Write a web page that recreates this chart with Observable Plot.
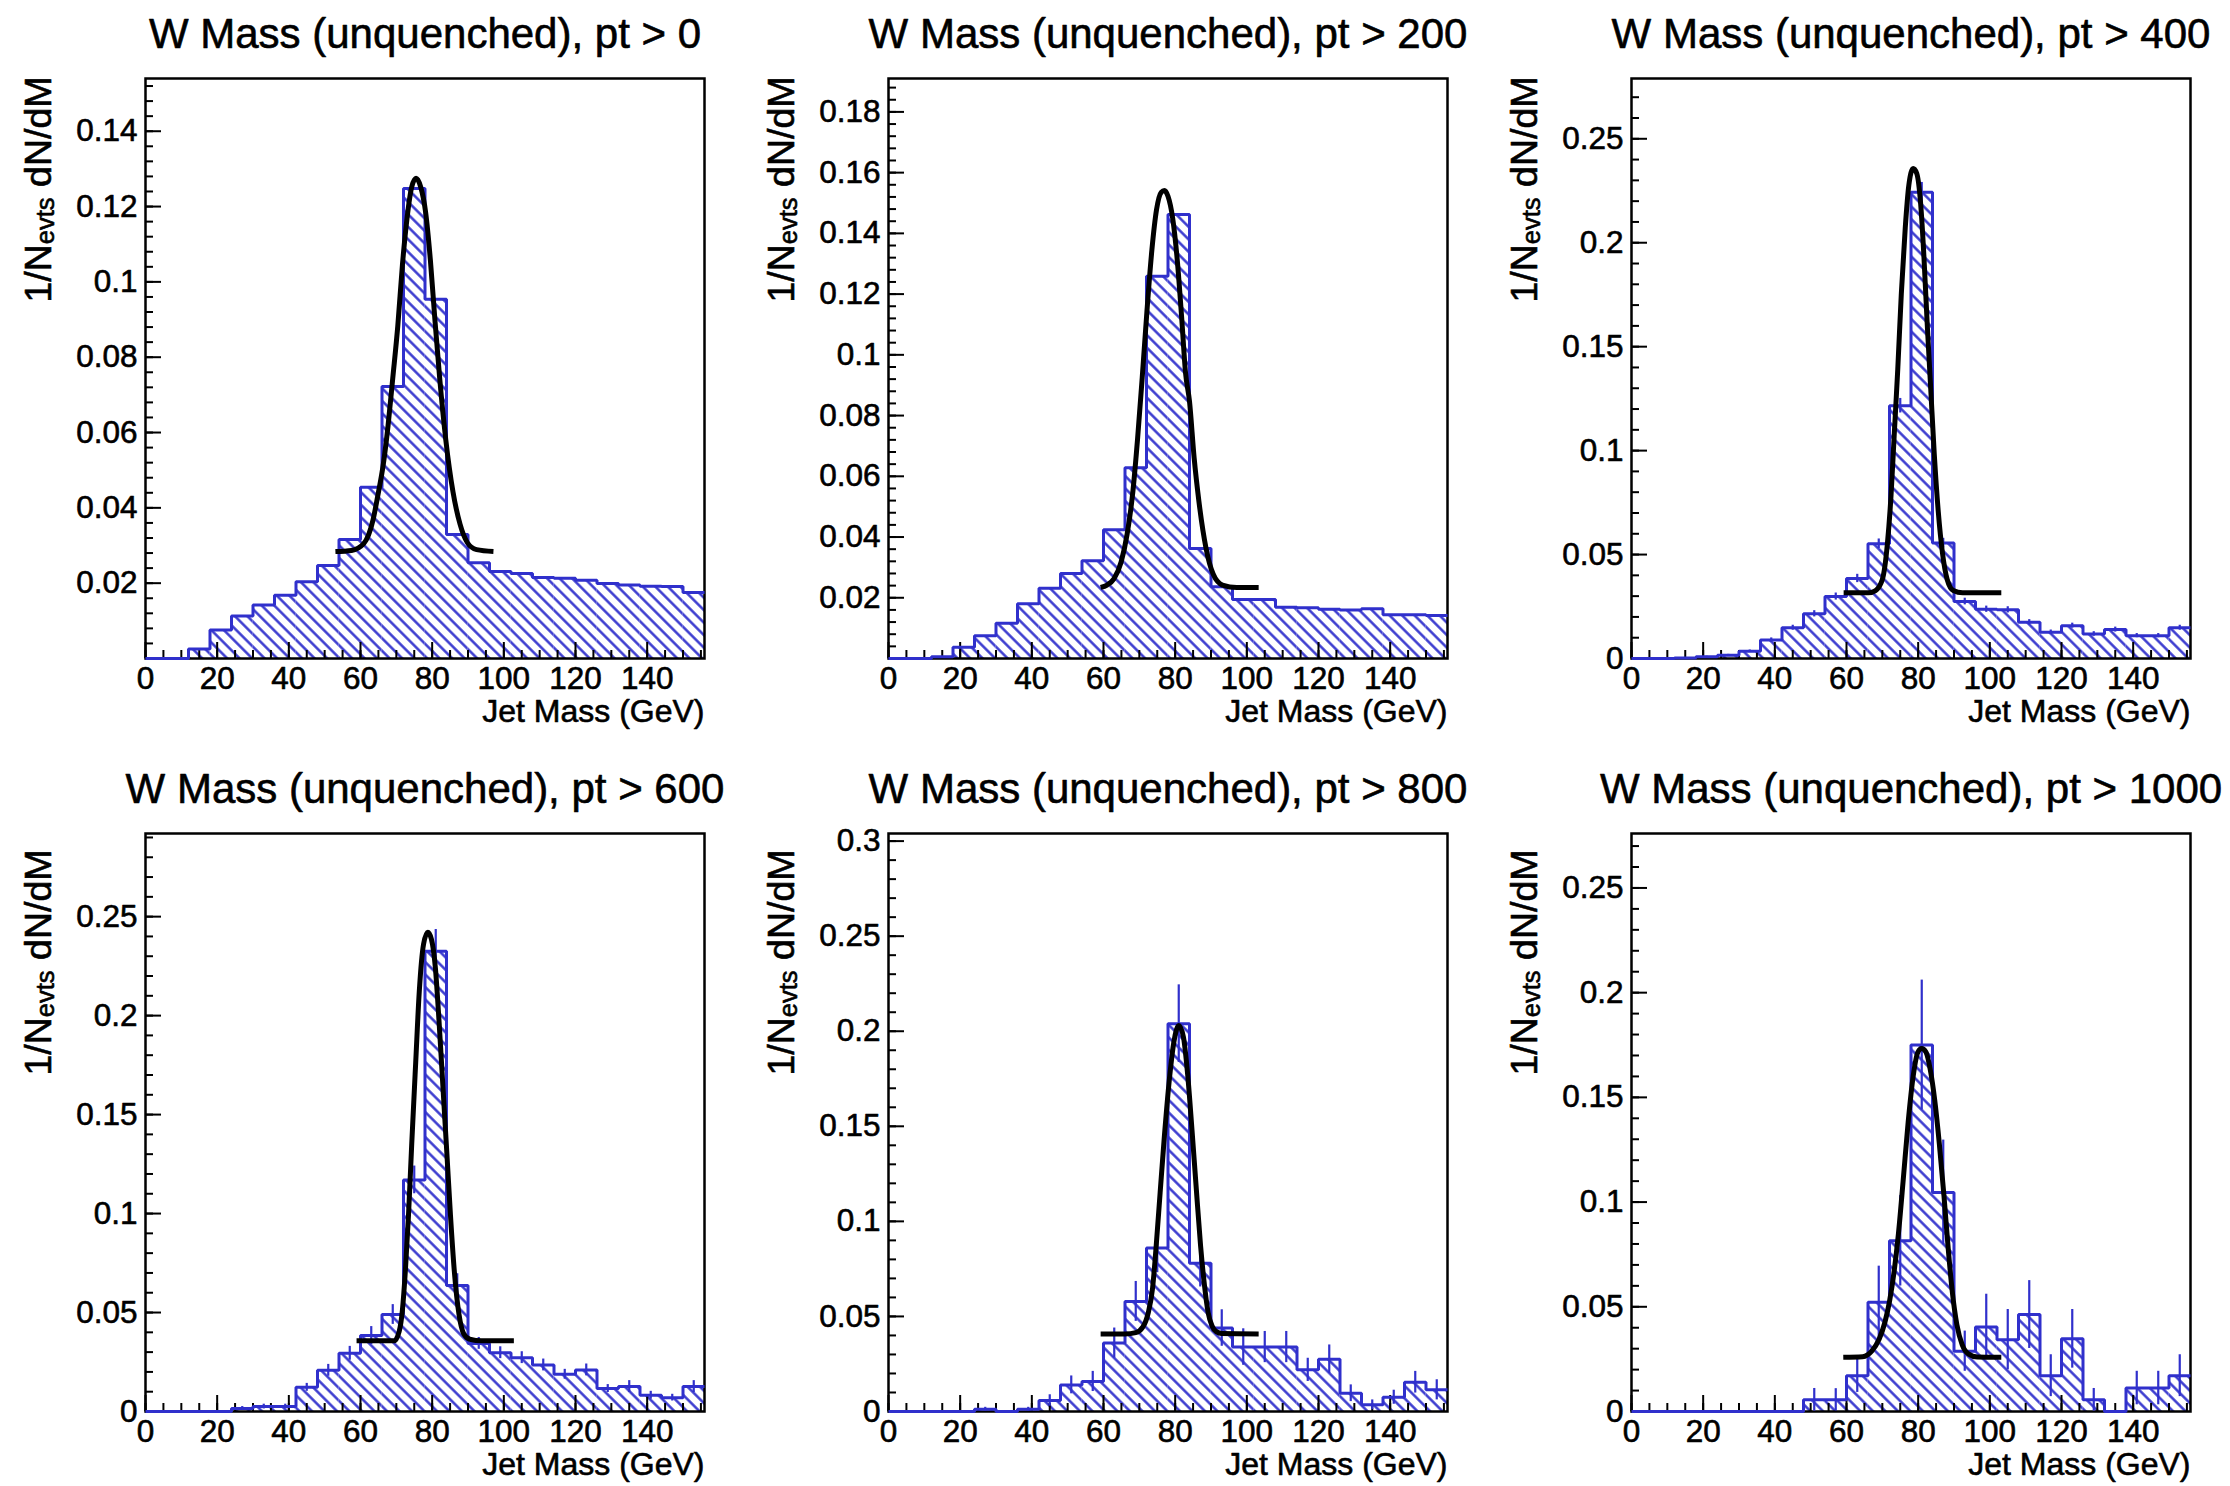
<!DOCTYPE html>
<html>
<head>
<meta charset="utf-8">
<script src="https://cdn.jsdelivr.net/npm/d3@7"></script>
<script src="https://cdn.jsdelivr.net/npm/@observablehq/plot@0.6"></script>
<style>
  html, body { margin: 0; padding: 0; background: #fff; }
  #page { position: relative; width: 2230px; height: 1486px; overflow: hidden; background: #fff; }
  .panel { position: absolute; }
</style>
</head>
<body>
<div id="page"></div>
<script>
// ---------------- DATA ----------------
const binWidth = 6;          // GeV per bin
const xMax = 156;            // 26 bins
const ptCuts = [0, 200, 400, 600, 800, 1000];
const xTitle = "Jet Mass (GeV)";
const yTitle = "1/Nevts dN/dM";
const xTickLabels = [0, 20, 40, 60, 80, 100, 120, 140];

// 1/N dN/dM per 6 GeV bin (0-6, 6-12, ... 150-156)
const hist0    = [0, 0, 0.0025, 0.0076, 0.0113, 0.0142, 0.0168, 0.0204, 0.0247, 0.0316, 0.0455, 0.0722, 0.1248, 0.0954, 0.0329, 0.0254, 0.0231, 0.0226, 0.0215, 0.0213, 0.0208, 0.0199, 0.0195, 0.0192, 0.0191, 0.0175];
const hist200  = [0, 0, 0.0006, 0.0037, 0.0075, 0.0116, 0.0180, 0.0231, 0.0280, 0.0322, 0.0424, 0.0628, 0.1259, 0.1462, 0.0362, 0.0236, 0.0194, 0.0194, 0.0169, 0.0167, 0.0162, 0.0160, 0.0164, 0.0144, 0.0144, 0.0142];
const hist400  = [0, 0, 0.0003, 0.0008, 0.0016, 0.0035, 0.0089, 0.0148, 0.0215, 0.0298, 0.0385, 0.0552, 0.1216, 0.2243, 0.0555, 0.0274, 0.0237, 0.0234, 0.0174, 0.0126, 0.0158, 0.0118, 0.0139, 0.0110, 0.0110, 0.0148];
const hist600  = [0, 0, 0, 0, 0.0015, 0.0025, 0.0025, 0.0122, 0.0208, 0.0294, 0.0384, 0.0490, 0.1170, 0.2325, 0.0636, 0.0344, 0.0297, 0.0272, 0.0235, 0.0188, 0.0210, 0.0116, 0.0126, 0.0082, 0.0070, 0.0126];
const hist800  = [0, 0, 0, 0, 0.0012, 0, 0.0012, 0.0058, 0.0140, 0.0158, 0.0360, 0.0579, 0.0860, 0.2040, 0.0780, 0.0439, 0.0339, 0.0339, 0.0339, 0.0219, 0.0275, 0.0096, 0.0035, 0.0075, 0.0154, 0.0114];
const hist1000 = [0, 0, 0, 0, 0, 0, 0, 0, 0.0056, 0.0056, 0.0171, 0.0522, 0.0815, 0.1750, 0.1046, 0.0288, 0.0404, 0.0343, 0.0463, 0.0171, 0.0347, 0.0056, 0, 0.0112, 0.0112, 0.0171];

// statistical errors per bin (visible in higher-pt panels)
const err0    = null;
const err200  = null;
const err400  = [0, 0, 0.0002, 0.0003, 0.0004, 0.0006, 0.0010, 0.0012, 0.0015, 0.0017, 0.0020, 0.0023, 0.0035, 0.0047, 0.0023, 0.0016, 0.0015, 0.0015, 0.0013, 0.0011, 0.0012, 0.0011, 0.0012, 0.0010, 0.0010, 0.0012];
const err600  = [0, 0, 0, 0, 0.0010, 0.0012, 0.0012, 0.0020, 0.0030, 0.0035, 0.0045, 0.0050, 0.0070, 0.0110, 0.0060, 0.0030, 0.0030, 0.0030, 0.0030, 0.0025, 0.0030, 0.0020, 0.0030, 0.0020, 0.0017, 0.0030];
const err800  = [0, 0, 0, 0, 0.0010, 0, 0.0010, 0.0030, 0.0047, 0.0053, 0.0079, 0.0105, 0.0130, 0.0204, 0.0125, 0.0096, 0.0096, 0.0082, 0.0082, 0.0061, 0.0075, 0.0044, 0.0026, 0.0037, 0.0057, 0.0053];
const err1000 = [0, 0, 0, 0, 0, 0, 0, 0, 0.0054, 0.0053, 0.0080, 0.0172, 0.0216, 0.0310, 0.0250, 0.0096, 0.0156, 0.0144, 0.0162, 0.0100, 0.0140, 0.0054, 0, 0.0080, 0.0080, 0.0100];

// fit curves, [mass, value] points
const fit0 = [[53.0,0.0284],[57.5,0.0287],[60.9,0.0305],[63.5,0.0368],[64.8,0.0431],[66.4,0.0518],[67.7,0.0619],[69.0,0.0744],[70.4,0.0882],[71.7,0.1045],[73.0,0.117],[74.3,0.1252],[75.5,0.1275],[76.8,0.1252],[78.2,0.1183],[79.5,0.1058],[80.8,0.0895],[82.1,0.0744],[83.8,0.0581],[85.8,0.0443],[87.8,0.0356],[89.8,0.0308],[92.4,0.0289],[97.1,0.0284]];
const fit200 = [[59.2,0.0234],[61.0,0.0242],[62.9,0.0262],[64.9,0.0317],[66.6,0.041],[68.2,0.055],[69.5,0.0722],[70.8,0.0924],[72.1,0.114],[73.5,0.1345],[74.8,0.1478],[76.1,0.1535],[77.0,0.1541],[78.0,0.1522],[79.3,0.145],[80.6,0.131],[81.8,0.1125],[82.9,0.094],[84.0,0.0847],[85.3,0.066],[86.6,0.052],[88.6,0.0364],[90.6,0.0278],[93.2,0.0242],[97.2,0.0234],[103.3,0.0234]];
const fit400 = [[59.2,0.0316],[66.1,0.0316],[68.1,0.0327],[70.0,0.038],[71.4,0.055],[72.4,0.0777],[73.3,0.107],[74.3,0.139],[75.3,0.1755],[76.4,0.2073],[77.4,0.2277],[78.6,0.2357],[79.6,0.2334],[80.7,0.2186],[81.6,0.1936],[82.5,0.1618],[83.5,0.13],[84.5,0.0982],[85.6,0.0709],[86.8,0.0505],[88.1,0.038],[89.8,0.0327],[92.4,0.0316],[103.2,0.0316]];
const fit600 = [[58.9,0.0357],[69.4,0.0357],[70.8,0.0405],[71.7,0.0513],[72.5,0.0705],[73.4,0.0993],[74.3,0.1353],[75.4,0.1761],[76.4,0.2121],[77.6,0.2361],[78.8,0.2421],[79.8,0.2385],[80.9,0.2241],[81.9,0.1977],[83.0,0.1641],[84.1,0.1305],[85.1,0.0993],[86.2,0.0705],[87.5,0.0489],[88.8,0.0393],[90.5,0.0365],[93.8,0.0357],[102.8,0.0357]];
const fit800 = [[59.2,0.0408],[66.0,0.0408],[69.0,0.0415],[71.0,0.0445],[72.5,0.052],[73.7,0.065],[74.7,0.087],[75.8,0.115],[77.0,0.145],[78.4,0.175],[79.7,0.195],[81.0,0.203],[82.3,0.197],[83.5,0.177],[84.7,0.148],[85.9,0.117],[87.1,0.087],[88.2,0.066],[89.2,0.052],[90.3,0.045],[91.5,0.042],[93.0,0.041],[103.3,0.0408]];
const fit1000 = [[59.1,0.0259],[64.5,0.0262],[67.1,0.0290],[69.1,0.0345],[70.7,0.0425],[72.0,0.0525],[73.3,0.067],[74.5,0.085],[75.8,0.110],[77.2,0.138],[78.6,0.160],[79.9,0.1715],[81.0,0.1733],[82.2,0.1715],[83.4,0.163],[84.6,0.149],[85.9,0.128],[87.2,0.103],[88.4,0.0775],[89.5,0.0575],[90.8,0.0415],[92.3,0.0318],[94.0,0.0275],[96.5,0.026],[103.2,0.0259]];

// y axes
const yMaxes = [0.154, 0.191, 0.279, 0.292, 0.304, 0.276];
const yTicks0    = [0.02, 0.04, 0.06, 0.08, 0.1, 0.12, 0.14];
const yTicks200  = [0.02, 0.04, 0.06, 0.08, 0.1, 0.12, 0.14, 0.16, 0.18];
const yTicks400  = [0, 0.05, 0.1, 0.15, 0.2, 0.25];
const yTicks600  = [0, 0.05, 0.1, 0.15, 0.2, 0.25];
const yTicks800  = [0, 0.05, 0.1, 0.15, 0.2, 0.25, 0.3];
const yTicks1000 = [0, 0.05, 0.1, 0.15, 0.2, 0.25];
const yMinorSteps = [0.004, 0.004, 0.01, 0.01, 0.01, 0.01];

const hists = [hist0, hist200, hist400, hist600, hist800, hist1000];
const errs = [err0, err200, err400, err600, err800, err1000];
const fits = [fit0, fit200, fit400, fit600, fit800, fit1000];
const yTicksAll = [yTicks0, yTicks200, yTicks400, yTicks600, yTicks800, yTicks1000];

// ---------------- STYLE ----------------
const FONT = "'Liberation Sans', Arial, Helvetica, sans-serif";
const BLUE = "#3030cc";
const HATCH = 12.5;   // horizontal period of hatch lines (px)
const TXT = {fill: "black", stroke: "black", strokeWidth: 0.6};

function fmt(d) { return d === 0 ? "0" : String(+d.toFixed(3)); }

const page = document.getElementById("page");

function drawPanel(k) {
  const c = k % 3, r = Math.floor(k / 3);
  const W = 743, H = 743;
  const ml = 145, mr = 39;
  const mt = r === 0 ? 78 : 90;
  const mb = r === 0 ? 85 : 75;
  const fw = W - ml - mr, fh = H - mt - mb;

  const vals = hists[k], er = errs[k];
  const bins = vals.map((v, i) => ({x1: i * binWidth, x2: (i + 1) * binWidth, xc: (i + 0.5) * binWidth, v, e: er ? er[i] : 0}));
  const outline = bins.flatMap(b => [{x: b.x1, y: b.v}, {x: b.x2, y: b.v}]);
  const xMinor = d3.range(0, xMax + 0.01, 5);
  const yMinor = d3.range(0, yMaxes[k] + 1e-9, yMinorSteps[k]);
  const pid = "hatch" + k;
  const title = `W Mass (unquenched), pt > ${ptCuts[k]}`;

  const svg = Plot.plot({
    width: W, height: H,
    marginLeft: ml, marginRight: mr, marginTop: mt, marginBottom: mb,
    x: {domain: [0, xMax], axis: null},
    y: {domain: [0, yMaxes[k]], axis: null},
    style: {fontFamily: FONT, background: "white", overflow: "visible", color: "black"},
    marks: [
      Plot.rectY(bins, {x1: "x1", x2: "x2", y: "v", fill: `url(#${pid})`}),
      Plot.frame({stroke: "black", strokeWidth: 2.5}),
      Plot.tickX(xMinor, {x: d => d, insetTop: fh - 8, stroke: "black", strokeWidth: 2}),
      Plot.tickX(xTickLabels, {x: d => d, insetTop: fh - 16, stroke: "black", strokeWidth: 2}),
      Plot.tickY(yMinor, {y: d => d, insetRight: fw - 8, stroke: "black", strokeWidth: 2}),
      Plot.tickY(yTicksAll[k], {y: d => d, insetRight: fw - 16, stroke: "black", strokeWidth: 2}),
      Plot.line(outline, {x: "x", y: "y", stroke: BLUE, strokeWidth: 3, strokeLinejoin: "miter", strokeLinecap: "butt"}),
      Plot.ruleX(bins.filter(b => b.e > 0), {x: "xc", y1: b => Math.max(0, b.v - b.e), y2: b => b.v + b.e, stroke: BLUE, strokeWidth: 2.2}),
      Plot.line(fits[k], {x: d => d[0], y: d => d[1], curve: "monotone-x", stroke: "black", strokeWidth: 5, strokeLinecap: "butt"}),
      Plot.text(xTickLabels, {x: d => d, text: d => String(d), frameAnchor: "bottom", dy: 30, lineAnchor: "bottom", fontSize: 31.5, ...TXT}),
      Plot.text(yTicksAll[k], {y: d => d, text: fmt, frameAnchor: "left", dx: -8, textAnchor: "end", lineAnchor: "middle", fontSize: 31.5, ...TXT}),
      Plot.text([xTitle], {text: d => d, frameAnchor: "bottom-right", dy: 63, textAnchor: "end", lineAnchor: "bottom", fontSize: 32, ...TXT}),
      Plot.text([yTitle], {text: d => d, frameAnchor: "top-left", dx: -95, dy: r === 0 ? -2 : 16, rotate: -90, textAnchor: "end", lineAnchor: "bottom", fontSize: 37.5, ...TXT}),
      Plot.text([title], {text: d => d, frameAnchor: "top", dy: -31, textAnchor: "middle", lineAnchor: "bottom", fontSize: 42, ...TXT})
    ]
  });

  // hatch pattern (\\\\ diagonal lines)
  const sel = d3.select(svg);
  const defs = sel.insert("defs", ":first-child");
  const P = HATCH / Math.SQRT2;
  const pat = defs.append("pattern")
    .attr("id", pid)
    .attr("patternUnits", "userSpaceOnUse")
    .attr("width", P)
    .attr("height", P)
    .attr("patternTransform", "rotate(-45)");
  pat.append("line")
    .attr("x1", P / 2).attr("x2", P / 2)
    .attr("y1", -1).attr("y2", P + 1)
    .attr("stroke", BLUE).attr("stroke-width", 2.4);

  // subscript in y title
  sel.selectAll("text").filter(function () { return d3.select(this).text() === yTitle; })
    .each(function () {
      const t = d3.select(this);
      t.text(null);
      t.append("tspan").text("1/N");
      t.append("tspan").attr("font-size", "0.68em").attr("dy", "0.12em").text("evts");
      t.append("tspan").attr("dy", "-0.08em").text(" dN/dM");
    });

  const div = document.createElement("div");
  div.className = "panel";
  div.style.left = (c * 743) + "px";
  div.style.top = (r * 743) + "px";
  div.appendChild(svg);
  page.appendChild(div);
}

for (let k = 0; k < 6; k++) drawPanel(k);
</script>
</body>
</html>
